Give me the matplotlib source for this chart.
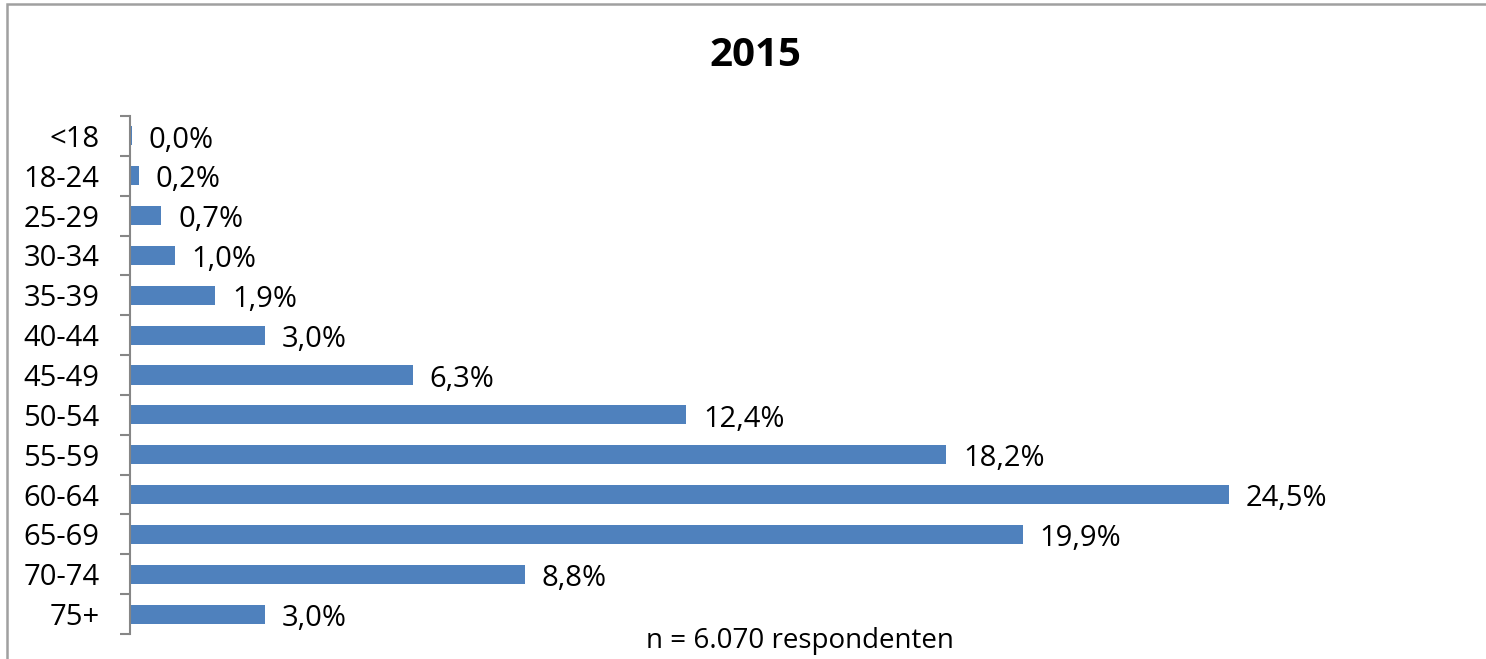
import matplotlib
matplotlib.use("Agg")
import matplotlib.pyplot as plt
import numpy as np
from matplotlib.patches import Rectangle

categories = ["<18", "18-24", "25-29", "30-34", "35-39", "40-44", "45-49",
              "50-54", "55-59", "60-64", "65-69", "70-74", "75+"]
values = [0.04, 0.2, 0.7, 1.0, 1.9, 3.0, 6.3, 12.4, 18.2, 24.5, 19.9, 8.8, 3.0]
labels = ["0,0%", "0,2%", "0,7%", "1,0%", "1,9%", "3,0%", "6,3%",
          "12,4%", "18,2%", "24,5%", "19,9%", "8,8%", "3,0%"]
title = "2015"
caption = "n = 6.070 respondenten"

plt.rcParams['font.family'] = ['Open Sans', 'DejaVu Sans']

W, H = 1486, 659
fig = plt.figure(figsize=(W / 100, H / 100), dpi=100)
ax = fig.add_axes([130 / W, 1 - 634 / H, (1251.5 - 130) / W, (634 - 116) / H])

y = np.arange(len(categories))
ax.barh(y, values, height=0.48, color="#4F81BD", zorder=2)
ax.set_xlim(0, 25)
ax.set_ylim(len(categories) - 0.5, -0.5)

for yi, v, lab in zip(y, values, labels):
    ax.annotate(lab, (v, yi), xytext=(12, -3), textcoords="offset points",
                ha="left", va="center", fontsize=21, color="black")

for s in ["top", "right", "bottom"]:
    ax.spines[s].set_visible(False)
ax.spines["left"].set_color("#868686")
ax.spines["left"].set_linewidth(1.5)
ax.set_xticks([])
ax.set_yticks(y)
ax.set_yticklabels(categories, fontsize=21)
ax.tick_params(axis="y", which="major", length=0, pad=22)
ax.set_yticks(np.arange(-0.5, len(categories), 1.0), minor=True)
ax.tick_params(axis="y", which="minor", length=7, width=1.5, color="#868686")

fig.text(755 / W, 1 - 56 / H, title, ha="center", va="center",
         fontsize=29, fontweight="bold")
fig.text(800 / W, 1 - 641 / H, caption, ha="center", va="center", fontsize=20)

border = Rectangle((7 / W, -0.1), 1.2, 1 - 4 / H + 0.1, transform=fig.transFigure,
                   fill=False, edgecolor="#A0A0A0", linewidth=1.8)
fig.add_artist(border)

fig.savefig("out.png", dpi=100, facecolor="white")
